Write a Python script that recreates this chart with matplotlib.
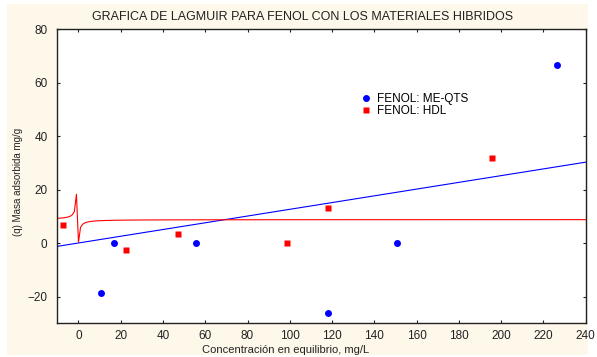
import numpy as np
import matplotlib
matplotlib.use('Agg')
import matplotlib.pyplot as plt
from matplotlib.patches import Rectangle

plt.rcParams['font.family'] = ['Liberation Sans', 'DejaVu Sans']

# ME-QTS data
x_qts = [10.5, 17.0, 55.5, 118.0, 150.5, 226.5]
y_qts = [-18.5, 0.0, 0.0, -26.0, 0.0, 66.5]

# HDL data
x_hdl = [-7.2, 22.7, 47.0, 98.7, 118.0, 195.8]
y_hdl = [6.9, -2.4, 3.5, 0.0, 13.1, 32.0]

# linear fit (ME-QTS)
slope, intercept = 0.126, 0.05
# langmuir fit (HDL): q = qm*K*C/(1+K*C)
qm, K = 8.8, 2.03

bg = '#fdf8ea'

fig = plt.figure(figsize=(5.97, 3.57), dpi=100)
fig.patch.set_facecolor('white')
fig.patches.append(Rectangle((7/597, 2/357), 581/597, 351/357, transform=fig.transFigure,
                             facecolor=bg, edgecolor='none', zorder=-10))
ax = fig.add_axes([57.3/597, 1 - 323.3/357, (585.7-57.3)/597, (323.3-29.3)/357])
ax.set_facecolor('white')

c_lin = np.linspace(-10, 240, 2)
ax.plot(c_lin, intercept + slope*c_lin, color='#0000ff', lw=0.8, zorder=2)

c_fit = -0.95 + 0.97*np.arange(-10, 253)
ax.plot(c_fit, qm*K*c_fit/(1 + K*c_fit), color='#ff0000', lw=0.8, zorder=2)

ax.plot(x_qts, y_qts, 'o', color='#0000ff', ms=5, mec='none', label='FENOL: ME-QTS', zorder=3)
ax.plot(x_hdl, y_hdl, 's', color='#ff0000', ms=5, mec='none', label='FENOL: HDL', zorder=3)

ax.set_xlim(-10, 240)
ax.set_ylim(-30, 80)
ax.set_xticks(np.arange(0, 241, 20))
ax.set_yticks(np.arange(-20, 81, 20))
ax.tick_params(direction='in', length=2.5, width=0.8, labelsize=8.5, top=True, right=True,
               labeltop=False, labelright=False, colors='#222222', labelcolor='#222222')
ax.tick_params(axis='y', pad=7)
ax.tick_params(axis='x', pad=5)
for s in ax.spines.values():
    s.set_linewidth(1.0)
    s.set_color('#222222')

fig.text(286/597, 1 - 350/357, 'Concentración en equilibrio, mg/L',
         ha='center', va='center', fontsize=8, color='#222222')
fig.text(18/597, 1 - 182/357, '(q) Masa adsorbida mg/g', rotation=90,
         ha='center', va='center', fontsize=7, color='#222222')
fig.text(303/597, 1 - 17/357, 'GRAFICA DE LAGMUIR PARA FENOL CON LOS MATERIALES HIBRIDOS',
         ha='center', va='center', fontsize=9, color='#222222')

ax.legend(loc='upper left', bbox_to_anchor=((355-57.3)/528.4, 1 - (87-29.3)/294),
          frameon=False, fontsize=8.5,
          handletextpad=0.6, labelspacing=0.0, handlelength=0.8, borderpad=0)

fig.savefig('out.png', dpi=100)
